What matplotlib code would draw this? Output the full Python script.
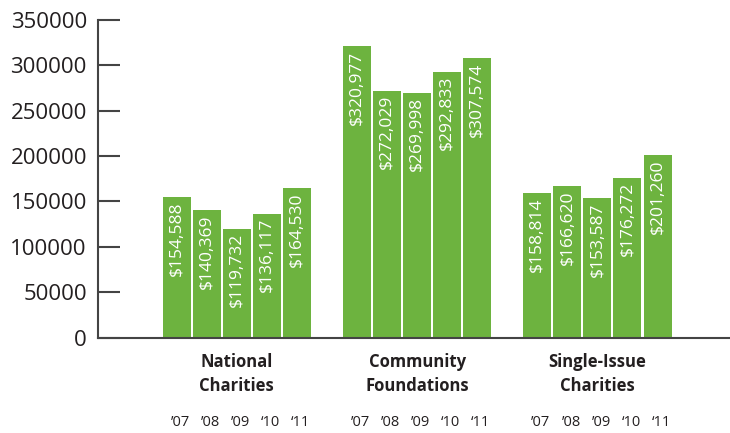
import matplotlib
matplotlib.use("Agg")
import matplotlib.pyplot as plt
import matplotlib.transforms as mtransforms

groups = ["National\nCharities", "Community\nFoundations", "Single-Issue\nCharities"]
years = ["\u201907", "\u201908", "\u201909", "\u201810", "\u201811"]
national = [154588, 140369, 119732, 136117, 164530]
community = [320977, 272029, 269998, 292833, 307574]
single_issue = [158814, 166620, 153587, 176272, 201260]
series = [national, community, single_issue]
yticks = [0, 50000, 100000, 150000, 200000, 250000, 300000, 350000]

GREEN = "#6db33f"
TXT = "#231f20"
plt.rcParams['font.family'] = ['Open Sans', 'DejaVu Sans']

x0 = -2.62
x1 = x0 + (730 - 98) / 30.05
fig = plt.figure(figsize=(7.3, 4.33), dpi=100)
ax = fig.add_axes([98/730, 1 - 337.5/433, 1 - 98/730, 317.5/433])

trans = mtransforms.blended_transform_factory(ax.transData, fig.transFigure)
for g, vals in enumerate(series):
    xs = [g * 6 + i for i in range(len(vals))]
    ax.bar(xs, vals, width=0.933, color=GREEN, linewidth=0)
    for i, (x, v) in enumerate(zip(xs, vals)):
        ax.text(x, v - 4500, f"${v:,}", rotation=90, ha="center", va="top",
                color="white", fontsize=12.5)
        ax.text(x + 0.12, 1 - 422/433, years[i], ha="center", va="center",
                color=TXT, fontsize=10.5, transform=trans)
    ax.text(g * 6 + 2, 1 - 374/433, groups[g], ha="center", va="center",
            color=TXT, fontsize=12, fontweight="bold", linespacing=1.45,
            transform=trans)

ax.set_xlim(x0, x1)
ax.set_ylim(0, 350000)
ax.set_yticks(yticks)
ax.set_yticklabels([str(t) for t in yticks])
ax.set_xticks([])
for s in ["top", "right"]:
    ax.spines[s].set_visible(False)
for s in ["left", "bottom"]:
    ax.spines[s].set_color("#444444")
    ax.spines[s].set_linewidth(1.5)
ax.tick_params(axis="y", direction="in", length=16, width=1.5, color="#444444",
               labelsize=16, labelcolor=TXT, pad=8)

fig.savefig("out.png", dpi=100)
